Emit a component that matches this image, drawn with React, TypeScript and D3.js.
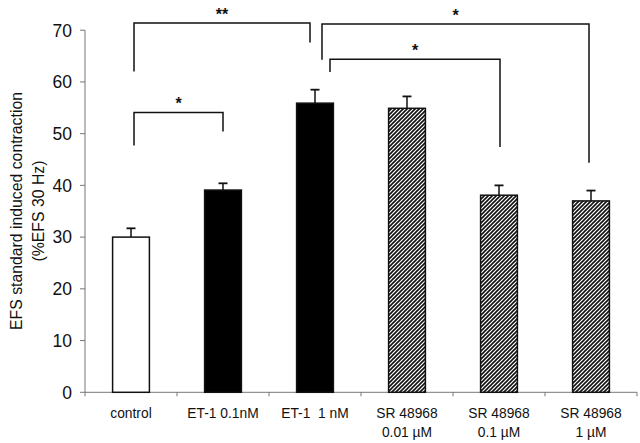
import React from "react";
import * as d3 from "d3";

const categories = ["control", "ET-1 0.1nM", "ET-1  1 nM", "SR 48968 0.01", "SR 48968 0.1", "SR 48968 1"];
const labelLine1 = ["control", "ET-1 0.1nM", "ET-1  1 nM", "SR 48968", "SR 48968", "SR 48968"];
const labelLine2 = ["", "", "", "0.01 \u00b5M", "0.1 \u00b5M", "1 \u00b5M"];
const means = [30.0, 39.1, 55.9, 54.9, 38.1, 37.0];
const errors = [1.7, 1.3, 2.6, 2.3, 1.9, 2.0];
const fills = ["white", "black", "black", "hatch", "hatch", "hatch"];
const yTicks = [0, 10, 20, 30, 40, 50, 60, 70];

// significance brackets: from/to category, top of bracket, bottom of each leg, label
const brackets = [
  { from: 0, to: 2, top: 71.4, leftEnd: 62.0, rightEnd: 67.6, label: "**" },
  { from: 0, to: 1, top: 54.1, leftEnd: 47.7, rightEnd: 50.4, label: "*" },
  { from: 2, to: 5, top: 71.2, leftEnd: 64.3, rightEnd: 44.4, label: "*" },
  { from: 2, to: 4, top: 64.4, leftEnd: 61.9, rightEnd: 47.4, label: "*" },
];
// small horizontal nudges of bracket legs off the bar centres
const legShift = [
  [3, -5],
  [3, 0],
  [7, -2],
  [15, 1],
];

const W = 640;
const H = 443;
const font = "'Liberation Sans', Arial, sans-serif";

export default function App() {
  const x = d3.scaleBand<string>().domain(categories).range([85, 637]).paddingInner(0).paddingOuter(0);
  const y = d3.scaleLinear().domain([0, 70]).range([392.3, 30.2]);
  const bw = x.bandwidth() * 0.4;
  const cx = (i: number) => (x(categories[i]) as number) + x.bandwidth() / 2;
  const boundaries = categories.map((c) => x(c) as number).concat([x.range()[1]]);

  return (
    <svg width={W} height={H} style={{ position: "absolute", left: 0, top: 0, background: "white" }}>
      <defs>
        <pattern id="hatch" patternUnits="userSpaceOnUse" width={4} height={4}>
          <rect width={4} height={4} fill="white" />
          <path d="M-1,1 l2,-2 M0,4 l4,-4 M3,5 l2,-2" stroke="#111" strokeWidth={1.6} />
        </pattern>
      </defs>

      {/* y axis */}
      <line x1={85} x2={85} y1={y(70)} y2={y(0)} stroke="#777" strokeWidth={1} />
      {yTicks.map((t) => (
        <g key={t}>
          <line x1={80} x2={85} y1={y(t)} y2={y(t)} stroke="#777" />
          <text x={72} y={y(t)} dy="0.36em" textAnchor="end" fontFamily={font} fontSize={17.5} fill="#111">
            {t}
          </text>
        </g>
      ))}
      <text
        transform={`translate(22,211) rotate(-90)`}
        textAnchor="middle"
        fontFamily={font}
        fontSize={15.8}
        fill="#111"
      >
        EFS standard induced contraction
      </text>
      <text
        transform={`translate(44,211) rotate(-90)`}
        textAnchor="middle"
        fontFamily={font}
        fontSize={15.8}
        fill="#111"
      >
        (%EFS 30 Hz)
      </text>

      {/* x axis */}
      <line x1={85} x2={637} y1={y(0)} y2={y(0)} stroke="#777" />
      {boundaries.map((b, i) => (
        <line key={i} x1={b} x2={b} y1={y(0)} y2={y(0) + 4} stroke="#777" />
      ))}
      {categories.map((c, i) => (
        <g key={c}>
          <text x={cx(i)} y={418} textAnchor="middle" fontFamily={font} fontSize={13.8} fill="#111" style={{ whiteSpace: "pre" }}>
            {labelLine1[i]}
          </text>
          {labelLine2[i] && (
            <text x={cx(i)} y={437} textAnchor="middle" fontFamily={font} fontSize={13.8} fill="#111">
              {labelLine2[i]}
            </text>
          )}
        </g>
      ))}

      {/* bars and error bars */}
      {categories.map((c, i) => (
        <g key={c}>
          <line x1={cx(i)} x2={cx(i)} y1={y(means[i])} y2={y(means[i] + errors[i])} stroke="#111" strokeWidth={1.5} />
          <line x1={cx(i) - 4.5} x2={cx(i) + 4.5} y1={y(means[i] + errors[i])} y2={y(means[i] + errors[i])} stroke="#111" strokeWidth={1.8} />
          <rect
            x={cx(i) - bw / 2}
            y={y(means[i])}
            width={bw}
            height={y(0) - y(means[i])}
            fill={fills[i] === "hatch" ? "url(#hatch)" : fills[i]}
            stroke="#111"
            strokeWidth={1.5}
          />
        </g>
      ))}

      {/* significance brackets */}
      {brackets.map((b, i) => {
        const xl = cx(b.from) + legShift[i][0];
        const xr = cx(b.to) + legShift[i][1];
        return (
          <g key={i}>
            <path
              d={`M${xl},${y(b.leftEnd)} V${y(b.top)} H${xr} V${y(b.rightEnd)}`}
              fill="none"
              stroke="#111"
              strokeWidth={1.5}
            />
            <text
              x={(xl + xr) / 2}
              y={y(b.top) - 3}
              textAnchor="middle"
              fontFamily={font}
              fontWeight="bold"
              fontSize={16}
              fill="#111"
            >
              {b.label}
            </text>
          </g>
        );
      })}
    </svg>
  );
}
